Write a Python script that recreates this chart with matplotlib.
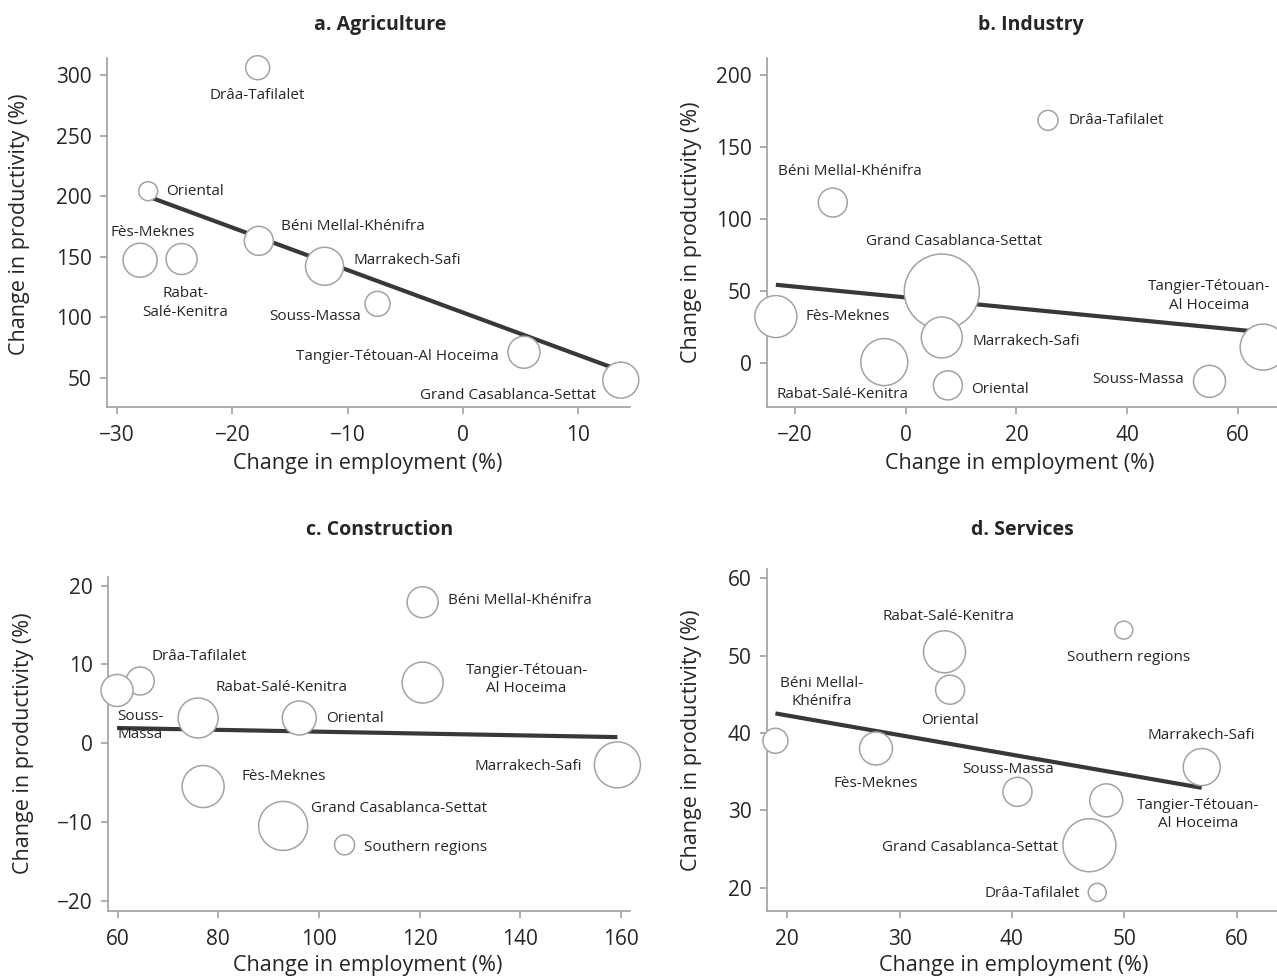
import numpy as np
import matplotlib
matplotlib.use("Agg")
import matplotlib.pyplot as plt

plt.rcParams['font.family'] = ['Open Sans', 'DejaVu Sans']

# ---- data ----
agri_names = ['Drâa-Tafilalet', 'Oriental', 'Fès-Meknes', 'Rabat-\nSalé-Kenitra',
              'Béni Mellal-Khénifra', 'Marrakech-Safi', 'Souss-Massa',
              'Tangier-Tétouan-Al Hoceima', 'Grand Casablanca-Settat']
agri_emp = [-17.8, -27.3, -28.0, -24.4, -17.7, -12.0, -7.4, 5.3, 13.7]
agri_prod = [306, 204, 147, 148, 163, 142, 111, 71, 48]
agri_size = [24, 19, 34, 31, 29, 38, 25, 32, 36]

ind_names = ['Drâa-Tafilalet', 'Béni Mellal-Khénifra', 'Grand Casablanca-Settat',
             'Fès-Meknes', 'Marrakech-Safi', 'Rabat-Salé-Kenitra', 'Oriental',
             'Souss-Massa', 'Tangier-Tétouan-\nAl Hoceima']
ind_emp = [25.7, -13.2, 6.5, -23.5, 6.5, -3.9, 7.6, 54.9, 64.6]
ind_prod = [168.6, 111.5, 49.7, 32.3, 17.8, 0.7, -15.5, -12.7, 11.1]
ind_size = [20, 29, 75, 42, 41, 47, 29, 32, 46]

cons_names = ['Béni Mellal-Khénifra', 'Drâa-Tafilalet', 'Souss-\nMassa', 'Rabat-Salé-Kenitra',
              'Oriental', 'Tangier-Tétouan-\nAl Hoceima', 'Marrakech-Safi', 'Fès-Meknes',
              'Grand Casablanca-Settat', 'Southern regions']
cons_emp = [120.6, 64.5, 59.9, 76.0, 96.1, 120.6, 159.3, 77.0, 92.9, 105.1]
cons_prod = [17.9, 7.9, 6.7, 3.2, 3.2, 7.7, -2.75, -5.5, -10.5, -12.9]
cons_size = [31, 28, 32, 40, 34, 41, 46, 42, 49, 20]

serv_names = ['Southern regions', 'Rabat-Salé-Kenitra', 'Oriental', 'Béni Mellal-\nKhénifra',
              'Fès-Meknes', 'Souss-Massa', 'Tangier-Tétouan-\nAl Hoceima', 'Marrakech-Safi',
              'Grand Casablanca-Settat', 'Drâa-Tafilalet']
serv_emp = [49.96, 34.0, 34.5, 18.95, 27.9, 40.5, 48.4, 56.9, 46.9, 47.6]
serv_prod = [53.3, 50.5, 45.6, 39.0, 38.0, 32.4, 31.3, 35.6, 25.5, 19.4]
serv_size = [18, 42, 29, 25, 33, 29, 33, 37, 53, 18]

# label placement: (dx px, dy px downward, ha)
agri_lbl = [(0, 28, 'center'), (18, 0, 'left'), (13, -28, 'center'), (4, 44, 'center'),
            (22, -14, 'left'), (29, -6, 'left'), (-17, 13, 'right'), (-25, 4, 'right'),
            (-25, 15, 'right')]
ind_lbl = [(21, 0, 'left'), (17, -31, 'center'), (12, -50, 'center'), (30, 0, 'left'),
           (31, 4, 'left'), (-42, 32, 'center'), (23, 4, 'left'), (-26, -2, 'right'),
           (-54, -51, 'center')]
cons_lbl = [(25, -2, 'left'), (11, -24, 'left'), (0, 35, 'left'), (17, -31, 'left'),
            (27, 0, 'left'), (104, -3, 'center'), (-35, 2, 'right'), (38, -10, 'left'),
            (28, -17, 'left'), (19, 3, 'left')]
serv_lbl = [(5, 27, 'center'), (4, -35, 'center'), (0, 31, 'center'), (46, -48, 'center'),
            (0, 35, 'center'), (-9, -22, 'center'), (92, 14, 'center'), (0, -32, 'center'),
            (-31, 2, 'right'), (-17, 1, 'right')]

W, H = 1277, 977
fig = plt.figure(figsize=(W / 100, H / 100), dpi=100)

# box = (left, right, top, bottom) in px; title / xlabel / ylabel centres in px
panels = [
    dict(title='a. Agriculture', box=(107, 630, 58, 407), xlim=(-30.87, 14.5), ylim=(25.8, 314),
         xt=range(-30, 11, 10), yt=range(50, 301, 50), tpos=(380, 25), xl=(368, 464), yl=(20, 224),
         names=agri_names, x=agri_emp, y=agri_prod, s=agri_size, lbl=agri_lbl),
    dict(title='b. Industry', box=(767, 1277, 58, 407), xlim=(-25.1, 67.1), ylim=(-30.5, 211.9),
         xt=range(-20, 61, 20), yt=range(0, 201, 50), tpos=(1031, 25), xl=(1020, 464), yl=(691, 232),
         names=ind_names, x=ind_emp, y=ind_prod, s=ind_size, lbl=ind_lbl),
    dict(title='c. Construction', box=(108, 630, 577, 911), xlim=(58.1, 161.8), ylim=(-21.3, 21.1),
         xt=range(60, 161, 20), yt=range(-20, 21, 10), tpos=(380, 530), xl=(368, 965), yl=(24, 743),
         names=cons_names, x=cons_emp, y=cons_prod, s=cons_size, lbl=cons_lbl),
    dict(title='d. Services', box=(767, 1277, 569, 911), xlim=(18.2, 63.6), ylim=(17.0, 61.2),
         xt=range(20, 61, 10), yt=range(20, 61, 10), tpos=(1022, 530), xl=(1014, 966), yl=(691, 740),
         names=serv_names, x=serv_emp, y=serv_prod, s=serv_size, lbl=serv_lbl),
]

spine_col = '#a0a0a0'
text_col = '#262626'

for p in panels:
    l, r, t, b = p['box']
    ax = fig.add_axes([l / W, 1 - b / H, (r - l) / W, (b - t) / H])
    x = np.array(p['x'])
    y = np.array(p['y'])

    # OLS trend line over the range of the points
    slope, icpt = np.polyfit(x, y, 1)
    xs = np.array([x.min(), x.max()])
    ax.plot(xs, icpt + slope * xs, color='#383838', lw=3, solid_capstyle='butt', zorder=2)

    # bubbles, diameter in px -> points
    sizes = (np.array(p['s']) / (100 / 72)) ** 2
    ax.scatter(x, y, s=sizes, facecolor='white', edgecolor='#a3a3a3', linewidth=1.1, zorder=3,
               clip_on=False)

    for name, xi, yi, (dx, dy, ha) in zip(p['names'], x, y, p['lbl']):
        ax.annotate(name, (xi, yi), xytext=(dx, -dy), textcoords='offset pixels',
                    ha=ha, va='center', multialignment=ha, fontsize=11, color=text_col,
                    linespacing=1.3, zorder=4)

    ax.set_xlim(*p['xlim'])
    ax.set_ylim(*p['ylim'])
    ax.set_xticks(list(p['xt']))
    ax.set_yticks(list(p['yt']))
    for side in ['top', 'right']:
        ax.spines[side].set_visible(False)
    for side in ['left', 'bottom']:
        ax.spines[side].set_color(spine_col)
        ax.spines[side].set_linewidth(1.2)
    ax.tick_params(colors=spine_col, labelcolor=text_col, labelsize=15, length=5, width=1.2)
    ax.tick_params(axis='x', pad=8)
    ax.tick_params(axis='y', pad=6)
    ax.patch.set_alpha(0)

    fig.text(p['xl'][0] / W, 1 - p['xl'][1] / H, 'Change in employment (%)', ha='center',
             va='center', fontsize=15.5, color=text_col)
    fig.text(p['yl'][0] / W, 1 - p['yl'][1] / H, 'Change in productivity (%)', ha='center',
             va='center', rotation=90, fontsize=15.5, color=text_col)
    fig.text(p['tpos'][0] / W, 1 - p['tpos'][1] / H, p['title'], ha='center', va='center',
             fontsize=14, fontweight='bold', color=text_col)

fig.savefig('out.png', dpi=100)
